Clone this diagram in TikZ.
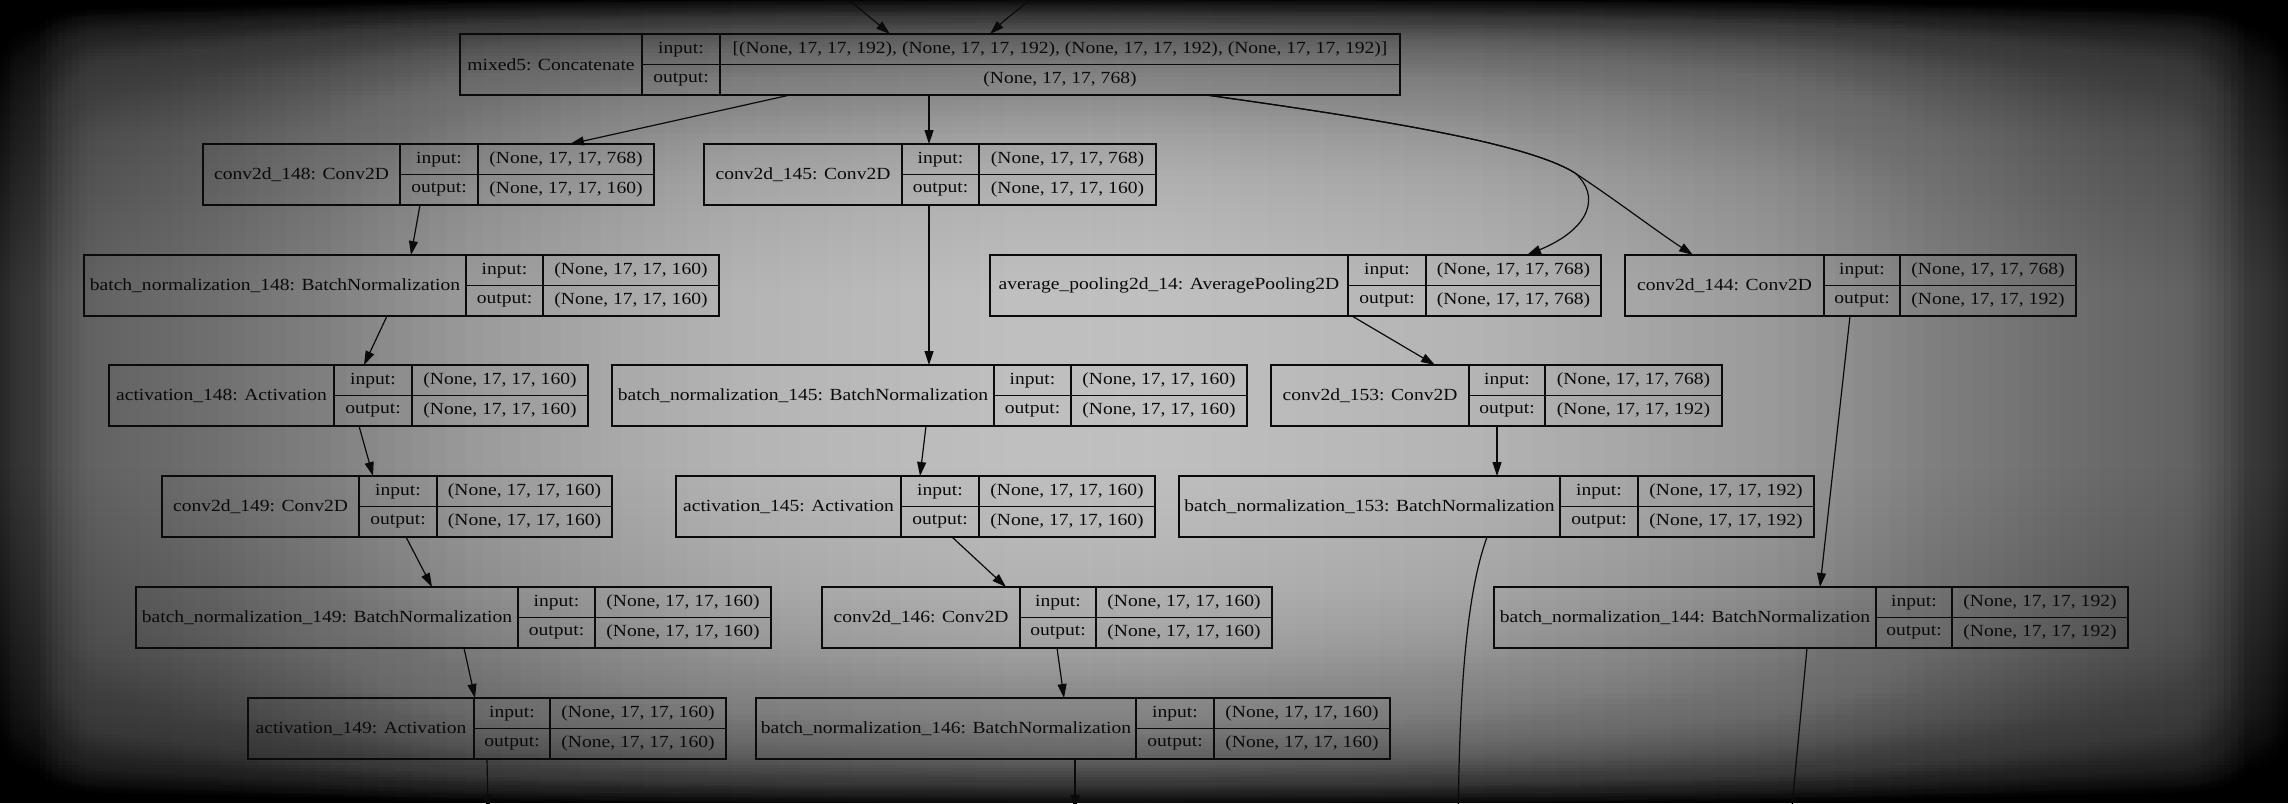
\documentclass[tikz,border=0pt]{standalone}
\usepackage{fontspec}
\setmainfont{Liberation Serif}[FakeStretch=1.15]
\usepackage{tikz}
\usetikzlibrary{arrows.meta}
\definecolor{kline}{gray}{0.04}
\definecolor{vgbase}{gray}{0.77}
\newcommand{\layer}[9]{%
  \node[recbox, minimum width={(#6-#3)*1pt}, anchor=north west] (#1) at (#3,#2) {};
  \node[cellbox, minimum width={(#4-#3)*1pt}, minimum height=61pt, anchor=north west] (#1-n) at (#3,#2) {#7};
  \node[cellbox, minimum width={(#5-#4)*1pt}, anchor=north west] (#1-li) at (#4,#2) {input:};
  \node[cellbox, minimum width={(#5-#4)*1pt}, anchor=north west] (#1-lo) at (#4,#2+30.5) {output:};
  \node[cellbox, minimum width={(#6-#5)*1pt}, anchor=north west] (#1-vi) at (#5,#2) {#8};
  \node[cellbox, minimum width={(#6-#5)*1pt}, anchor=north west] (#1-vo) at (#5,#2+30.5) {#9};
}

\begin{document}
\begin{tikzpicture}[
  x=1pt, y=-1pt,
  recbox/.style={inner sep=0pt, outer sep=0pt, minimum height=61pt},
  cellbox/.style={
    rectangle, draw=kline, line width=1.5pt,
    inner sep=0pt, outer sep=0pt,
    minimum height=30.5pt,
    font=\fontsize{17}{20}\selectfont,
    text=kline
  },
  conn/.style={-{Triangle[length=14pt,width=9pt]}, line width=1.2pt, draw=kline},
  shadeband/.style={fill=black, fill opacity=#1}
]
\useasboundingbox (0,0) rectangle (2288,803);
\clip (0,0) rectangle (2288,803);
\fill[vgbase] (0,0) rectangle (2288,803);
\foreach \i in {1,...,80}{
  \pgfmathsetmacro\da{1144*((\i-0.5)/80)^2}
  \pgfmathsetmacro\db{1144*((\i+0.5)/80)^2}
  \pgfmathsetmacro\wd{1144*(\i/80)^2}
  \pgfmathsetmacro\op{1-exp(0.4*exp(-\db/35)+0.72*exp(-\db/376)-0.4*exp(-\da/35)-0.72*exp(-\da/376))}
  \fill[shadeband=\op] (0,0) rectangle (\wd,803);
  \fill[shadeband=\op] (2288-1.1*\wd,0) rectangle (2288,803);
}
\foreach \i in {1,...,80}{
  \pgfmathsetmacro\ea{401.5*((\i-0.5)/80)^2}
  \pgfmathsetmacro\eb{401.5*((\i+0.5)/80)^2}
  \pgfmathsetmacro\ht{401.5*(\i/80)^2}
  \pgfmathsetmacro\op{1-exp(0.89*exp(-\eb/17)+0.72*exp(-\eb/82)-0.89*exp(-\ea/17)-0.72*exp(-\ea/82))}
  \fill[shadeband=\op] (0,0) rectangle (2288,\ht);
  \fill[shadeband=\op] (0,803-1.15*\ht) rectangle (2288,803);
}

\layer{m5}{34}{460}{642}{720}{1400}{mixed5: Concatenate}{[(None, 17, 17, 192), (None, 17, 17, 192), (None, 17, 17, 192), (None, 17, 17, 192)]}{(None, 17, 17, 768)}
\layer{c148}{144}{203}{400}{478}{654}{conv2d\_148: Conv2D}{(None, 17, 17, 768)}{(None, 17, 17, 160)}
\layer{c145}{144}{704}{902}{979}{1156}{conv2d\_145: Conv2D}{(None, 17, 17, 768)}{(None, 17, 17, 160)}
\layer{bn148}{255}{84}{466}{543}{719}{batch\_normalization\_148: BatchNormalization}{(None, 17, 17, 160)}{(None, 17, 17, 160)}
\layer{ap14}{255}{990}{1348}{1426}{1601}{average\_pooling2d\_14: AveragePooling2D}{(None, 17, 17, 768)}{(None, 17, 17, 768)}
\layer{c144}{255}{1625}{1824}{1900}{2076}{conv2d\_144: Conv2D}{(None, 17, 17, 768)}{(None, 17, 17, 192)}
\layer{a148}{365}{109}{334}{412}{588}{activation\_148: Activation}{(None, 17, 17, 160)}{(None, 17, 17, 160)}
\layer{bn145}{365}{612}{994}{1071}{1247}{batch\_normalization\_145: BatchNormalization}{(None, 17, 17, 160)}{(None, 17, 17, 160)}
\layer{c153}{365}{1271}{1469}{1545}{1722}{conv2d\_153: Conv2D}{(None, 17, 17, 768)}{(None, 17, 17, 192)}
\layer{c149}{476}{162}{359}{437}{612}{conv2d\_149: Conv2D}{(None, 17, 17, 160)}{(None, 17, 17, 160)}
\layer{a145}{476}{676}{901}{979}{1155}{activation\_145: Activation}{(None, 17, 17, 160)}{(None, 17, 17, 160)}
\layer{bn153}{476}{1179}{1560}{1638}{1814}{batch\_normalization\_153: BatchNormalization}{(None, 17, 17, 192)}{(None, 17, 17, 192)}
\layer{bn149}{587}{136}{518}{595}{771}{batch\_normalization\_149: BatchNormalization}{(None, 17, 17, 160)}{(None, 17, 17, 160)}
\layer{c146}{587}{822}{1020}{1096}{1272}{conv2d\_146: Conv2D}{(None, 17, 17, 160)}{(None, 17, 17, 160)}
\layer{bn144}{587}{1494}{1876}{1952}{2128}{batch\_normalization\_144: BatchNormalization}{(None, 17, 17, 192)}{(None, 17, 17, 192)}
\layer{a149}{698}{248}{474}{550}{726}{activation\_149: Activation}{(None, 17, 17, 160)}{(None, 17, 17, 160)}
\layer{bn146}{698}{756}{1136}{1214}{1390}{batch\_normalization\_146: BatchNormalization}{(None, 17, 17, 160)}{(None, 17, 17, 160)}

\coordinate (in1) at (825,-20);
\coordinate (in2) at (1055,-20);
\coordinate (out1) at (1458,870);
\coordinate (out2) at (1786,870);
\coordinate (out3) at (488,809);
\coordinate (out4) at (1075,809);

\draw[conn] (in1) -- ([xshift=430pt]m5.north west);
\draw[conn] (in2) .. controls (1035,-3) and (1010,15) .. ([xshift=530pt]m5.north west);
\draw[conn] ([xshift=330pt]m5.south west) -- ([xshift=367pt]c148.north west);
\draw[conn] ([xshift=469pt]m5.south west) -- ([xshift=225pt]c145.north west);
\draw[conn] ([xshift=746pt]m5.south west) .. controls (1400,122) and (1530,145) .. (1575,173)
  .. controls (1600,195) and (1592,228) .. ([xshift=537pt]ap14.north west);
\draw[conn] ([xshift=746pt]m5.south west) .. controls (1400,122) and (1530,145) .. (1575,173)
  .. controls (1620,203) and (1655,230) .. ([xshift=68pt]c144.north west);
\draw[conn] ([xshift=217pt]c148.south west) -- ([xshift=327pt]bn148.north west);
\draw[conn] ([xshift=225pt]c145.south west) -- ([xshift=317pt]bn145.north west);
\draw[conn] ([xshift=303pt]bn148.south west) -- ([xshift=255pt]a148.north west);
\draw[conn] ([xshift=362pt]ap14.south west) -- ([xshift=164pt]c153.north west);
\draw[conn] ([xshift=225pt]c144.south west) -- ([xshift=326pt]bn144.north west);
\draw[conn] ([xshift=250pt]a148.south west) -- ([xshift=211pt]c149.north west);
\draw[conn] ([xshift=314pt]bn145.south west) -- ([xshift=244pt]a145.north west);
\draw[conn] ([xshift=226pt]c153.south west) -- ([xshift=318pt]bn153.north west);
\draw[conn] ([xshift=244pt]c149.south west) -- ([xshift=296pt]bn149.north west);
\draw[conn] ([xshift=276pt]a145.south west) -- ([xshift=184pt]c146.north west);
\draw[conn] ([xshift=328pt]bn149.south west) -- ([xshift=227pt]a149.north west);
\draw[conn] ([xshift=235pt]c146.south west) -- ([xshift=308pt]bn146.north west);
\draw[conn] ([xshift=308pt]bn153.south west) .. controls (1468,590) and (1458,680) .. (out1);
\draw[conn] ([xshift=313pt]bn144.south west) -- (out2);
\draw[conn] ([xshift=239pt]a149.south west) -- (out3);
\draw[conn] ([xshift=319pt]bn146.south west) -- (out4);
\end{tikzpicture}
\end{document}
